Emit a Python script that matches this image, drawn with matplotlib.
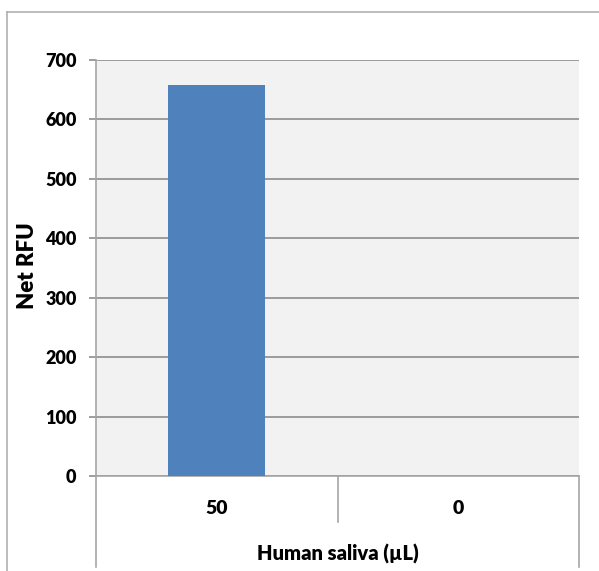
import numpy as np
import matplotlib.pyplot as plt
from matplotlib.lines import Line2D

plt.rcParams['font.family'] = ['Lato', 'DejaVu Sans']
plt.rcParams['font.weight'] = 'heavy'
plt.rcParams['axes.labelweight'] = 'heavy'

categorias = ['50', '0']
valores = [658, 0]
yticks = [0, 100, 200, 300, 400, 500, 600, 700]

W, H = 599, 571
fig = plt.figure(figsize=(W / 100, H / 100), dpi=100)

# marco exterior del grafico (como en excel)
fig.add_artist(Line2D([7 / W, 7 / W], [0, 1 - 12 / H], color='#b0b0b0', lw=1.2))
fig.add_artist(Line2D([7 / W, 1], [1 - 12 / H, 1 - 12 / H], color='#b0b0b0', lw=1.2))

ax = fig.add_axes([96 / W, 95 / H, (579 - 96) / W, (476 - 60) / H])
ax.set_facecolor('#f2f2f2')

x = np.arange(len(categorias))
ax.bar(x, valores, width=0.4, color='#4f81bd', zorder=3)

ax.set_xlim(-0.5, 1.5)
ax.set_ylim(0, 700)
ax.set_yticks(yticks)
ax.grid(axis='y', color='#8c8c8c', lw=1.2, zorder=1)
ax.set_axisbelow(True)

for s in ['top', 'right']:
    ax.spines[s].set_visible(False)
ax.spines['left'].set_color('#a6a6a6')
ax.spines['bottom'].set_color('#a6a6a6')
ax.spines['left'].set_linewidth(1.2)
ax.spines['bottom'].set_linewidth(1.2)

ax.tick_params(axis='y', length=5, width=1.2, color='#8c8c8c', pad=9, labelsize=13)
ax.tick_params(axis='x', length=0, pad=17, labelsize=14)
ax.set_xticks(x)
ax.set_xticklabels(categorias)

# lineas de la tabla de categorias debajo del eje
t = ax.transAxes
h_largo = (567 - 476) / 416
h_corto = (522 - 476) / 416
ax.plot([0, 0], [0, -h_largo], transform=t, color='#a6a6a6', lw=1.2, clip_on=False)
ax.plot([0.5, 0.5], [0, -h_corto], transform=t, color='#a6a6a6', lw=1.2, clip_on=False)
ax.plot([1, 1], [0, -h_largo], transform=t, color='#a6a6a6', lw=1.2, clip_on=False)

ax.set_xlabel('Human saliva (µL)', fontsize=14.5, va='center')
ax.xaxis.set_label_coords(0.5, -(554 - 476) / 416)
ax.set_ylabel('Net RFU', fontsize=16, va='center')
ax.yaxis.set_label_coords(-(96 - 28) / 483, 0.505)

fig.savefig('out.png', dpi=100)
